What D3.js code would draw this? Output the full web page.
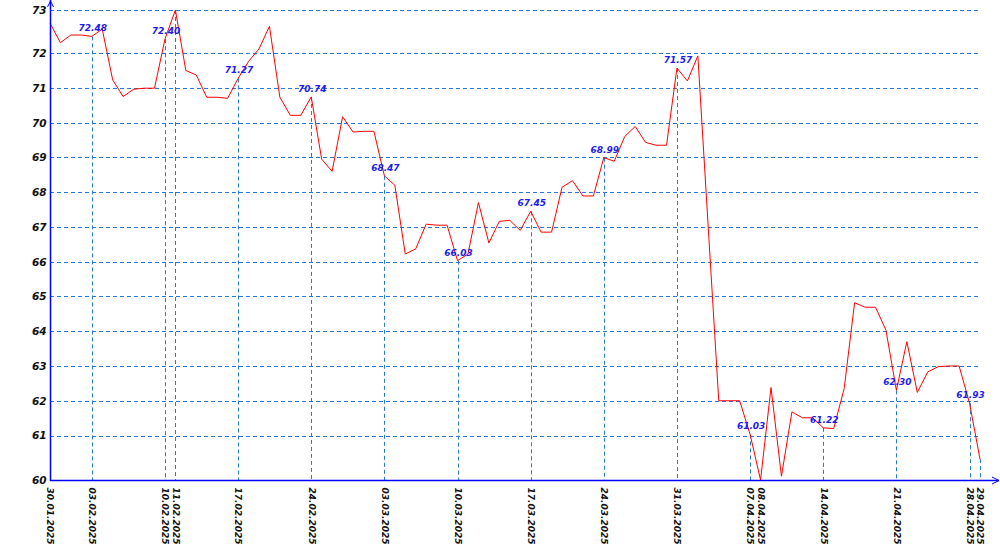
<!DOCTYPE html>
<html>
<head>
<meta charset="utf-8">
<script src="https://cdn.jsdelivr.net/npm/d3@7"></script>
<style>
  html, body { margin: 0; padding: 0; background: #fff; }
  svg { display: block; }
</style>
</head>
<body>
<svg id="chart" width="1000" height="550"></svg>
<script>
// ---- data ----
const startDate = "30.01.2025";
const values = [
  72.86, 72.30, 72.52, 72.52, 72.48, 72.69, 71.23, 70.75, 70.96, 70.99,
  70.99, 72.40, 73.24, 71.50, 71.37, 70.73, 70.73, 70.70, 71.27, 71.76,
  72.12, 72.77, 70.73, 70.21, 70.21, 70.74, 68.95, 68.60, 70.17, 69.73,
  69.75, 69.75, 68.47, 68.20, 66.22, 66.37, 67.08, 67.05, 67.05, 66.03,
  66.22, 67.70, 66.54, 67.16, 67.19, 66.90, 67.45, 66.85, 66.85, 68.14,
  68.33, 67.89, 67.89, 68.99, 68.89, 69.60, 69.89, 69.43, 69.35, 69.35,
  71.57, 71.20, 71.92, 66.95, 62.00, 62.00, 62.00, 61.03, 59.72, 62.38,
  59.83, 61.68, 61.51, 61.51, 61.22, 61.20, 62.35, 64.82, 64.69, 64.69,
  64.03, 62.30, 63.70, 62.24, 62.83, 62.98, 63.00, 63.00, 61.93, 60.32
];
const xTickLabels = [
  "30.01.2025", "03.02.2025", "10.02.2025", "11.02.2025", "17.02.2025",
  "24.02.2025", "03.03.2025", "10.03.2025", "17.03.2025", "24.03.2025",
  "31.03.2025", "07.04.2025", "08.04.2025", "14.04.2025", "21.04.2025",
  "28.04.2025", "29.04.2025"
];
const annotatedDates = [
  "03.02.2025", "10.02.2025", "17.02.2025", "24.02.2025", "03.03.2025",
  "10.03.2025", "17.03.2025", "24.03.2025", "31.03.2025", "07.04.2025",
  "14.04.2025", "21.04.2025", "28.04.2025"
];
const yTickLabels = ["60","61","62","63","64","65","66","67","68","69","70","71","72","73"];

// ---- setup ----
const parse = d3.timeParse("%d.%m.%Y");
const fmt = d3.timeFormat("%d.%m.%Y");
const t0 = parse(startDate);
const series = values.map((v, i) => ({ date: d3.timeDay.offset(t0, i), value: v }));
const byKey = new Map(series.map(d => [fmt(d.date), d]));

const svg = d3.select("#chart");
const pL = 50, pR = 980, pT = 10, pB = 480;

const x = d3.scaleTime()
  .domain(d3.extent(series, d => d.date))
  .range([pL, pR]);
const yExt = d3.extent(values);
const y = d3.scaleLinear().domain(yExt).range([pB, pT]);

const yTickValues = yTickLabels.map((s, i) =>
  i === 0 ? yExt[0] : i === yTickLabels.length - 1 ? yExt[1] : +s);

const gridColor = "#2a78d6";
const dash = "4,3";

// horizontal grid
svg.append("g").selectAll("line")
  .data(yTickValues.slice(1))
  .join("line")
  .attr("x1", pL).attr("x2", pR)
  .attr("y1", d => Math.round(y(d)) + 0.5).attr("y2", d => Math.round(y(d)) + 0.5)
  .attr("stroke", gridColor).attr("stroke-width", 1)
  .attr("stroke-dasharray", dash);

// vertical grid (from point down to axis)
const tickPts = xTickLabels.map(s => byKey.get(s));
svg.append("g").selectAll("line")
  .data(tickPts.filter(d => fmt(d.date) !== startDate))
  .join("line")
  .attr("x1", d => Math.round(x(d.date)) + 0.5).attr("x2", d => Math.round(x(d.date)) + 0.5)
  .attr("y1", d => y(d.value)).attr("y2", pB)
  .attr("stroke", gridColor).attr("stroke-width", 1)
  .attr("stroke-dasharray", dash);

// line
svg.append("path")
  .datum(series)
  .attr("fill", "none")
  .attr("stroke", "#ff0000")
  .attr("stroke-width", 1)
  .attr("d", d3.line().x(d => x(d.date)).y(d => y(d.value)));

// annotations
svg.append("g").selectAll("text")
  .data(annotatedDates.map(s => byKey.get(s)))
  .join("text")
  .attr("x", d => x(d.date) + 1)
  .attr("y", d => y(d.value) - 5)
  .attr("text-anchor", "middle")
  .attr("font-family", "DejaVu Sans, Verdana, sans-serif")
  .attr("font-size", 9)
  .attr("font-weight", "bold")
  .attr("font-style", "italic")
  .attr("fill", "#1c1cf0")
  .text(d => d.value.toFixed(2));

// y axis
const yAxis = d3.axisLeft(y).tickValues(yTickValues)
  .tickFormat((d, i) => yTickLabels[i]).tickSize(0).tickPadding(4);
const gy = svg.append("g").attr("transform", `translate(${pL + 0.5},0)`).call(yAxis);
gy.select(".domain").remove();
gy.selectAll("text")
  .attr("font-family", "DejaVu Sans, Verdana, sans-serif")
  .attr("font-size", 10.5)
  .attr("font-weight", "bold")
  .attr("font-style", "italic")
  .attr("fill", "#111");

// x axis
const xAxis = d3.axisBottom(x).tickValues(xTickLabels.map(parse))
  .tickFormat(fmt).tickSize(0);
const gx = svg.append("g").attr("transform", `translate(0,${pB + 0.5})`).call(xAxis);
gx.select(".domain").remove();
gx.selectAll("text")
  .attr("transform", "rotate(90)")
  .attr("x", 7).attr("y", 0).attr("dy", "0.35em")
  .attr("text-anchor", "start")
  .attr("font-family", "DejaVu Sans, Verdana, sans-serif")
  .attr("font-size", 9)
  .attr("font-weight", "bold")
  .attr("font-style", "italic")
  .attr("fill", "#111");

// axis lines with arrows
const axisColor = "#0000ff";
svg.append("line").attr("x1", pL + 0.5).attr("x2", pL + 0.5).attr("y1", 0).attr("y2", pB + 1)
  .attr("stroke", axisColor).attr("stroke-width", 1.5);
svg.append("line").attr("x1", pL).attr("x2", 999).attr("y1", pB + 0.5).attr("y2", pB + 0.5)
  .attr("stroke", axisColor).attr("stroke-width", 1.5);
svg.append("path").attr("d", `M${pL - 2.5},7 L${pL + 0.5},1 L${pL + 3.5},7`)
  .attr("fill", "none").attr("stroke", axisColor).attr("stroke-width", 1);
svg.append("path").attr("d", `M992,${pB - 3} L999,${pB + 0.5} L992,${pB + 4}`)
  .attr("fill", "none").attr("stroke", axisColor).attr("stroke-width", 1);
</script>
</body>
</html>
